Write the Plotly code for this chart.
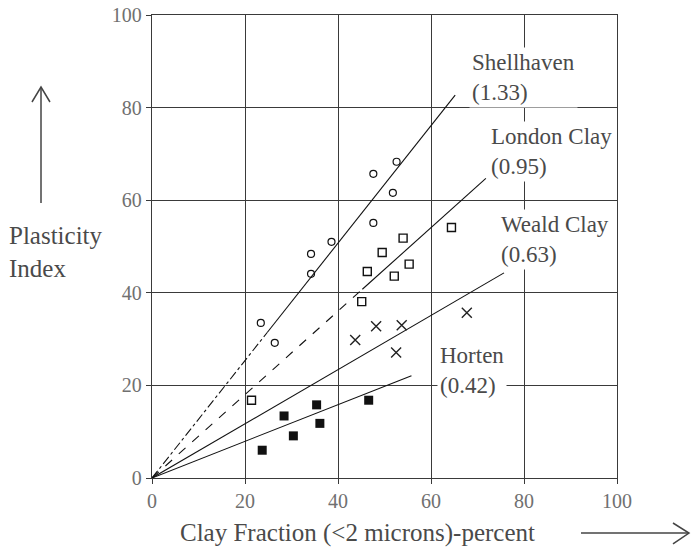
import plotly.graph_objects as go

# ---- data ----
shell_x = [47.6, 52.6, 51.8, 47.6, 38.6, 34.2, 34.2, 23.4, 26.4]
shell_y = [65.7, 68.3, 61.6, 55.1, 51.0, 48.4, 44.1, 33.5, 29.2]

london_x = [54.0, 49.5, 55.3, 46.3, 52.1, 45.1, 21.4, 64.4]
london_y = [51.8, 48.7, 46.2, 44.6, 43.6, 38.1, 16.8, 54.1]

weald_x = [43.7, 48.2, 53.7, 52.5, 67.7]
weald_y = [29.8, 32.8, 33.0, 27.1, 35.7]

horten_x = [35.4, 28.4, 36.1, 30.4, 23.7, 46.6]
horten_y = [15.8, 13.4, 11.8, 9.1, 6.0, 16.8]

line_names = ["Shellhaven", "London Clay", "Weald Clay", "Horten"]
line_activity = ["1.33", "0.95", "0.63", "0.42"]
line_end_x = [65.2, 71.8, 75.7, 55.8]
line_end_y = [82.7, 64.7, 44.3, 22.1]

x_ticks = [0, 20, 40, 60, 80, 100]
y_ticks = [0, 20, 40, 60, 80, 100]

# ---- styles ----
broken_frac = [0.38, 0.63, 0.0, 0.0]
broken_dash = ["dashdot", "dash", "solid", "solid"]
label_pos = [(68.2, 86.4), (72.3, 70.6), (74.4, 51.6), (61.3, 23.3)]

TXT = "#4a4a4a"
GRID = "#3a3a3a"
FONT = "Liberation Serif, Times New Roman, serif"

fig = go.Figure()

for i in range(4):
    xe, ye = line_end_x[i], line_end_y[i]
    f = broken_frac[i]
    if f > 0:
        fig.add_trace(go.Scatter(x=[0, xe * f], y=[0, ye * f], mode="lines",
                                 line=dict(color="#111", width=1.1, dash=broken_dash[i]),
                                 showlegend=False, hoverinfo="skip"))
    fig.add_trace(go.Scatter(x=[xe * f, xe], y=[ye * f, ye], mode="lines",
                             line=dict(color="#111", width=1.1),
                             showlegend=False, hoverinfo="skip"))

fig.add_trace(go.Scatter(x=shell_x, y=shell_y, mode="markers", name="Shellhaven",
                         marker=dict(symbol="circle-open", size=7, color="#111",
                                     line=dict(width=1.2)), showlegend=False))
fig.add_trace(go.Scatter(x=london_x, y=london_y, mode="markers", name="London Clay",
                         marker=dict(symbol="square-open", size=8, color="#111",
                                     line=dict(width=1.4)), showlegend=False))
fig.add_trace(go.Scatter(x=weald_x, y=weald_y, mode="markers", name="Weald Clay",
                         marker=dict(symbol="x-thin-open", size=10, color="#222",
                                     line=dict(width=1.4)), showlegend=False))
fig.add_trace(go.Scatter(x=horten_x, y=horten_y, mode="markers", name="Horten",
                         marker=dict(symbol="square", size=9, color="#111"),
                         showlegend=False))

for i in range(4):
    lx, ly = label_pos[i]
    fig.add_annotation(x=lx, y=ly, xref="x", yref="y", xanchor="left", yanchor="middle",
                       text=f"{line_names[i]}<br>({line_activity[i]})", align="left",
                       showarrow=False, bgcolor="white", borderpad=2,
                       font=dict(family=FONT, size=23, color=TXT))

# axis titles
fig.add_annotation(x=0.056, y=-0.119, xref="paper", yref="paper", xanchor="left",
                   yanchor="middle", text="Clay Fraction (<2 microns)-percent",
                   showarrow=False, font=dict(family=FONT, size=25, color=TXT))
fig.add_annotation(x=-0.312, y=0.488, xref="paper", yref="paper", xanchor="left",
                   yanchor="middle", text="Plasticity<br>Index", align="left",
                   showarrow=False, font=dict(family=FONT, size=25, color=TXT))

def px2p(px, py):
    return (px - 152) / 465.0, (478 - py) / 463.0

def arrow_path(pts):
    s = ""
    for k, (a, b) in enumerate(pts):
        xp, yp = px2p(a, b)
        s += ("M" if k == 0 else "L") + f"{xp:.4f},{yp:.4f} "
    return s

fig.add_shape(type="path", xref="paper", yref="paper",
              path=arrow_path([(41, 203), (41, 87)]), line=dict(color="#444", width=1.5))
fig.add_shape(type="path", xref="paper", yref="paper",
              path=arrow_path([(32, 102), (41, 87), (50, 102)]), line=dict(color="#444", width=1.5))
fig.add_shape(type="path", xref="paper", yref="paper",
              path=arrow_path([(581, 533), (689, 533)]), line=dict(color="#444", width=1.5))
fig.add_shape(type="path", xref="paper", yref="paper",
              path=arrow_path([(673, 523), (689, 533), (673, 544)]), line=dict(color="#444", width=1.5))

axis_common = dict(range=[0, 100], showgrid=True, gridcolor=GRID, gridwidth=1.4,
                   showline=True, linecolor=GRID, linewidth=1.4, mirror=True,
                   zeroline=False, ticks="outside", ticklen=5, tickcolor=GRID,
                   automargin=False,
                   tickfont=dict(family=FONT, size=20, color="#707070"))
fig.update_xaxes(**axis_common, tickvals=x_ticks, ticktext=[str(v) for v in x_ticks])
fig.update_yaxes(**axis_common, tickvals=y_ticks, ticktext=[str(v) for v in y_ticks])

fig.update_layout(width=691, height=550, margin=dict(l=152, r=74, t=15, b=72),
                  plot_bgcolor="white", paper_bgcolor="white")

fig.write_html("out.html", config={"displayModeBar": False},
               post_script="document.body.style.margin='0px';document.body.style.overflow='hidden';")
